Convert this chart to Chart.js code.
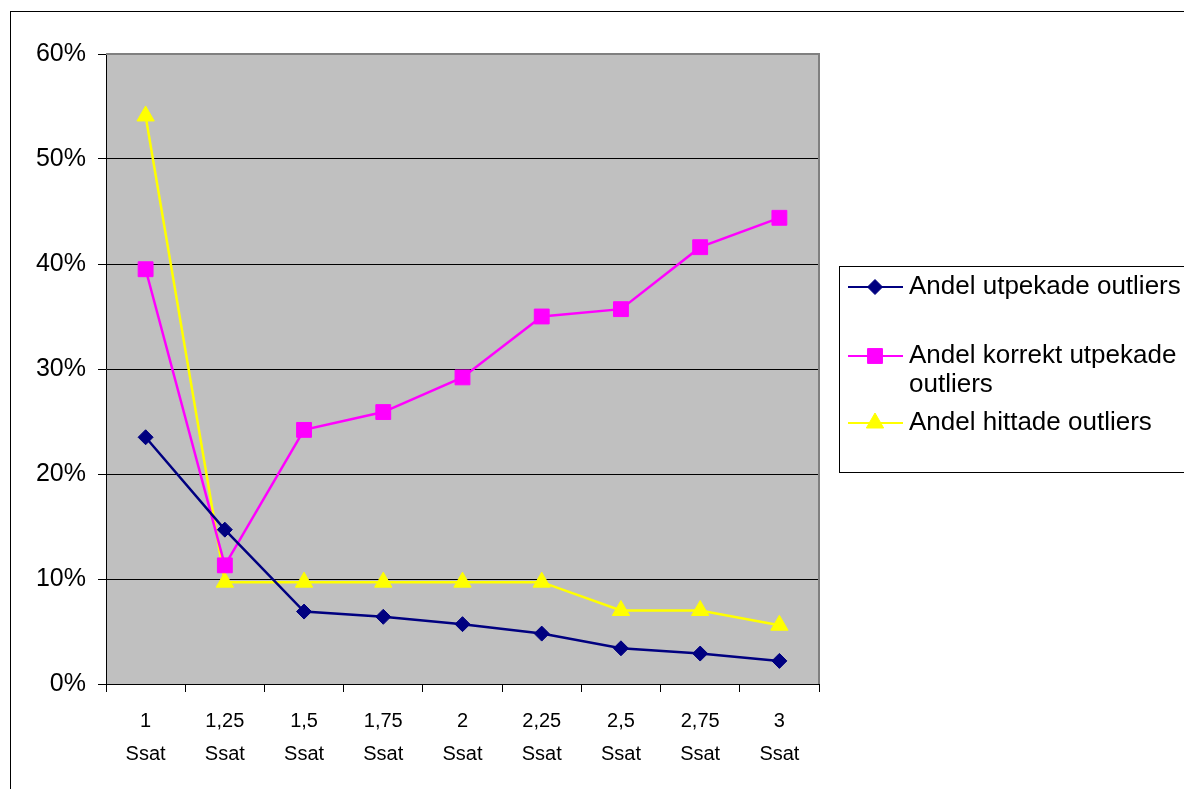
<!DOCTYPE html>
<html>
<head>
<meta charset="utf-8">
<script src="https://cdn.jsdelivr.net/npm/chart.js@4/dist/chart.umd.min.js"></script>
<style>
  html, body { margin: 0; padding: 0; background: #fff; }
  canvas { display: block; }
</style>
</head>
<body>
<canvas id="chart" width="1184" height="789"></canvas>
<script>
const categories = [['1', 'Ssat'], ['1,25', 'Ssat'], ['1,5', 'Ssat'], ['1,75', 'Ssat'], ['2', 'Ssat'],
    ['2,25', 'Ssat'], ['2,5', 'Ssat'], ['2,75', 'Ssat'], ['3', 'Ssat']]

const utpekade = [23.5, 14.7, 6.9, 6.4, 5.7, 4.8, 3.4, 2.9, 2.2]
const korrektUtpekade = [39.5, 11.3, 24.2, 25.9, 29.2, 35.0, 35.7, 41.6, 44.4]
const hittade = [54.1, 9.7, 9.7, 9.7, 9.7, 9.7, 7.0, 7.0, 5.6]

const legendLabels = [
    ['Andel utpekade outliers'],
    ['Andel korrekt utpekade', 'outliers'],
    ['Andel hittade outliers']
]

const yTicks = [0, 10, 20, 30, 40, 50, 60]

const font = 'Liberation Sans, Arial, sans-serif'

// white page, outer frame, grey plot background
const backdrop = {
    id: 'backdrop',
    beforeDraw(chart) {
        const { ctx, chartArea: a } = chart
        ctx.save()
        ctx.fillStyle = '#fff'
        ctx.fillRect(0, 0, chart.width, chart.height)
        ctx.strokeStyle = '#000'
        ctx.lineWidth = 1
        ctx.strokeRect(10.5, 11.5, chart.width + 20, chart.height + 20)
        ctx.fillStyle = '#c0c0c0'
        ctx.fillRect(a.left, a.top, a.right - a.left, a.bottom - a.top)
        ctx.restore()
    },
    beforeDatasetsDraw(chart) {
        const { ctx, chartArea: a } = chart
        ctx.save()
        ctx.strokeStyle = '#808080'
        ctx.lineWidth = 2
        ctx.beginPath()
        ctx.moveTo(a.left, a.top)
        ctx.lineTo(a.right, a.top)
        ctx.lineTo(a.right, a.bottom)
        ctx.stroke()
        ctx.restore()
    }
}

// legend box on the right, like the spreadsheet one
const sideLegend = {
    id: 'sideLegend',
    afterDraw(chart) {
        const { ctx } = chart
        ctx.save()
        ctx.strokeStyle = '#000'
        ctx.lineWidth = 1
        ctx.strokeRect(839.5, 266.5, 400, 206)
        const rows = [287, 356, 423]
        ctx.font = '26px ' + font
        ctx.textBaseline = 'middle'
        ctx.fillStyle = '#000'
        chart.data.datasets.forEach((ds, i) => {
            const y = rows[i]
            ctx.strokeStyle = ds.borderColor
            ctx.lineWidth = 2
            ctx.beginPath()
            ctx.moveTo(848, y)
            ctx.lineTo(903, y)
            ctx.stroke()
            ctx.fillStyle = ds.pointBackgroundColor
            ctx.strokeStyle = ds.borderColor
            ctx.lineWidth = 1
            Chart.helpers.drawPoint(ctx, { pointStyle: ds.pointStyle, radius: ds.pointRadius, borderWidth: 1 }, 875, y)
            ctx.fillStyle = '#000'
            legendLabels[i].forEach((line, j) => ctx.fillText(line, 909, y + j * 29))
        })
        ctx.restore()
    }
}

new Chart(document.getElementById('chart'), {
    type: 'line',
    data: {
        labels: categories,
        datasets: [{
            label: legendLabels[0].join(' '),
            data: utpekade,
            borderColor: '#000080',
            backgroundColor: '#000080',
            pointBackgroundColor: '#000080',
            borderWidth: 2.5,
            pointStyle: 'rectRot',
            pointRadius: 7.5,
            pointBorderWidth: 1
        }, {
            label: legendLabels[1].join(' '),
            data: korrektUtpekade,
            borderColor: '#ff00ff',
            backgroundColor: '#ff00ff',
            pointBackgroundColor: '#ff00ff',
            borderWidth: 2.5,
            pointStyle: 'rect',
            pointRadius: 10.5,
            pointBorderWidth: 1
        }, {
            label: legendLabels[2].join(' '),
            data: hittade,
            borderColor: '#ffff00',
            backgroundColor: '#ffff00',
            pointBackgroundColor: '#ffff00',
            borderWidth: 2.5,
            pointStyle: 'triangle',
            pointRadius: 10,
            pointBorderWidth: 1
        }]
    },
    options: {
        responsive: false,
        animation: false,
        layout: {
            padding: { top: 54, right: 365, left: 0, bottom: 0 }
        },
        scales: {
            x: {
                offset: true,
                grid: {
                    offset: true,
                    drawOnChartArea: false,
                    color: '#000',
                    tickLength: 8
                },
                border: { color: '#000', width: 1 },
                ticks: {
                    color: '#000',
                    font: { family: font, size: 20, lineHeight: '33px' },
                    padding: 13,
                    maxRotation: 0,
                    autoSkip: false
                },
                afterFit(scale) { scale.height = 105 }
            },
            y: {
                min: yTicks[0],
                max: yTicks[yTicks.length - 1],
                afterBuildTicks(scale) { scale.ticks = yTicks.map(v => ({ value: v })) },
                grid: {
                    color: '#000',
                    tickLength: 8
                },
                border: { color: '#000', width: 1 },
                ticks: {
                    color: '#000',
                    font: { family: font, size: 25 },
                    padding: 12,
                    callback: v => v + '%'
                },
                afterFit(scale) { scale.width = 106 }
            }
        },
        plugins: {
            legend: { display: false },
            tooltip: { enabled: false }
        }
    },
    plugins: [backdrop, sideLegend]
})
</script>
</body>
</html>
